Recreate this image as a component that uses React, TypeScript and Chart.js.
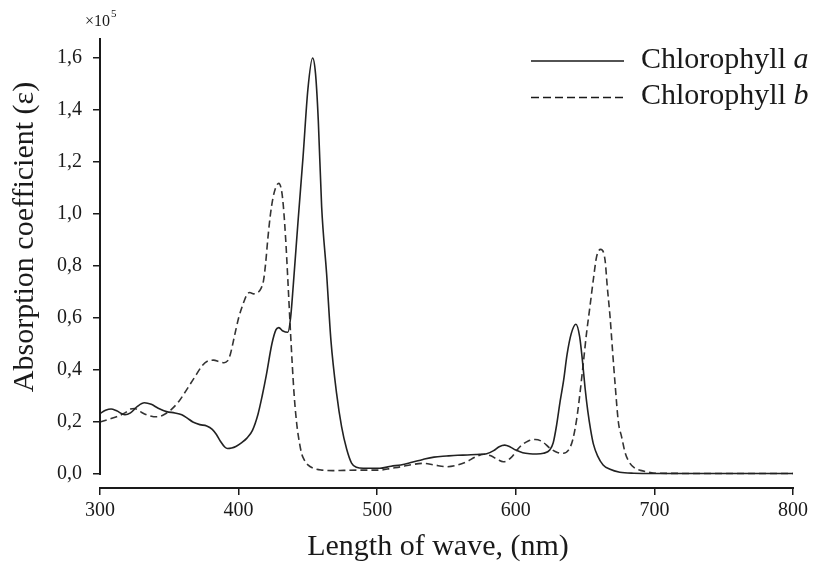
import React, { useEffect, useRef } from "react";
import { Chart, registerables } from "chart.js";

Chart.register(...registerables);

// Chlorophyll a (solid)
const wavelengthsA = [
  300, 304, 308, 312, 318, 322, 327, 332, 337, 342, 348, 354, 359, 363, 367, 372, 377, 381, 384, 387,
  390, 392, 395, 398, 402, 406, 410, 414, 417, 420, 424, 427, 429, 432, 435.5, 437.5, 439.5, 443, 446.5,
  450, 453.4, 455.5, 457.5, 459.9, 463.5, 466.6, 470.7, 474.3, 478, 481.5, 485, 490, 495, 502, 510,
  517, 525, 533, 541, 550, 558, 565, 572, 579, 584, 588, 592, 596, 600, 605, 610, 615, 620, 624.5,
  627, 629.5, 632, 634.5, 637, 640, 643.4, 646, 648, 650, 652, 654, 656, 659, 663, 668, 675, 685, 700,
  750, 800,
];
const absorbA = [
  0.233, 0.245, 0.25, 0.243, 0.228, 0.235, 0.26, 0.274, 0.268, 0.253, 0.24, 0.235, 0.228, 0.215, 0.2,
  0.19, 0.185, 0.172, 0.152, 0.125, 0.104, 0.098, 0.1, 0.106, 0.12, 0.138, 0.168, 0.23, 0.3, 0.38,
  0.5, 0.555, 0.563, 0.55, 0.545, 0.6, 0.73, 0.98, 1.22, 1.48, 1.6, 1.54, 1.36, 1.03, 0.77, 0.515,
  0.31, 0.182, 0.095, 0.042, 0.026, 0.022, 0.022, 0.022, 0.03, 0.035, 0.045, 0.056, 0.065, 0.069,
  0.072, 0.073, 0.075, 0.078, 0.09, 0.105, 0.111, 0.104, 0.092, 0.082, 0.078, 0.077, 0.08, 0.092,
  0.12, 0.19, 0.28, 0.36, 0.46, 0.54, 0.576, 0.53, 0.44, 0.33, 0.24, 0.17, 0.115, 0.07, 0.035, 0.018,
  0.007, 0.003, 0.002, 0.002, 0.002,
];

// Chlorophyll b (dashed)
const wavelengthsB = [
  300, 306, 312, 318, 322, 325, 329, 334, 341, 346, 351, 357, 362, 368, 374, 378, 382, 386, 389.5,
  392, 394, 397, 400, 403.4, 406, 408, 411, 413, 416, 418, 419.5, 421, 423, 425, 427, 429, 431, 432.3,
  434, 435.5, 437.5, 440, 441.8, 443, 445.4, 447, 450, 454, 460, 468, 476, 485, 495, 502, 510, 517,
  525, 533, 541, 550, 557, 564.5, 571, 577, 582, 587, 591, 596, 603, 609, 614, 619, 624.7, 630,
  634.3, 638, 641, 643.9, 646.5, 648.7, 651, 653.5, 656, 658.3, 661.2, 664.4, 666, 668, 670, 671.6,
  674, 676.3, 679, 682.4, 686, 690, 695, 702, 750, 800,
];
const absorbB = [
  0.2, 0.21, 0.22, 0.235, 0.25, 0.252, 0.24, 0.227, 0.22, 0.228, 0.246, 0.28, 0.32, 0.37, 0.418,
  0.435, 0.438, 0.432, 0.428, 0.435, 0.46, 0.53, 0.6, 0.656, 0.69, 0.698, 0.693, 0.695, 0.712, 0.745,
  0.81, 0.9, 1.0, 1.067, 1.105, 1.118, 1.09, 1.03, 0.9, 0.75, 0.54, 0.31, 0.2, 0.15, 0.08, 0.058,
  0.035, 0.022, 0.015, 0.013, 0.014, 0.015, 0.015, 0.015, 0.022, 0.028, 0.036, 0.041, 0.035, 0.028,
  0.033, 0.047, 0.066, 0.076, 0.07, 0.055, 0.047, 0.06, 0.105, 0.127, 0.133, 0.125, 0.099, 0.083,
  0.08, 0.092, 0.13, 0.21, 0.32, 0.426, 0.54, 0.644, 0.75, 0.836, 0.864, 0.823, 0.72, 0.605, 0.46,
  0.349, 0.2, 0.144, 0.08, 0.041, 0.022, 0.014, 0.008, 0.003, 0.002, 0.002,
];

const yTickValues = [0, 0.2, 0.4, 0.6, 0.8, 1.0, 1.2, 1.4, 1.6];
const seriesLabels = ["Chlorophyll a", "Chlorophyll b"];

const SERIF = "'Liberation Serif', 'Times New Roman', serif";
const INK = "#1a1a1a";

const decorPlugin = {
  id: "decor",
  afterDraw(chart: any) {
    const { ctx, chartArea, scales } = chart;
    const y0 = scales.y.getPixelForValue(0);
    ctx.save();
    // axis lines
    ctx.strokeStyle = INK;
    ctx.lineWidth = 2;
    ctx.setLineDash([]);
    ctx.beginPath();
    ctx.moveTo(chartArea.left, y0 + 1);
    ctx.lineTo(chartArea.left, chartArea.top);
    ctx.stroke();
    ctx.beginPath();
    ctx.moveTo(chartArea.left - 1, chartArea.bottom);
    ctx.lineTo(chartArea.right + 1, chartArea.bottom);
    ctx.stroke();

    ctx.fillStyle = INK;
    // exponent
    ctx.textAlign = "left";
    ctx.textBaseline = "alphabetic";
    ctx.font = `16px ${SERIF}`;
    ctx.fillText("\u00d710", 85, 26);
    const w10 = ctx.measureText("\u00d710").width;
    ctx.font = `11px ${SERIF}`;
    ctx.fillText("5", 85 + w10 + 1, 17);

    // y title
    ctx.save();
    ctx.translate(33, 237);
    ctx.rotate(-Math.PI / 2);
    ctx.textAlign = "center";
    ctx.textBaseline = "alphabetic";
    ctx.font = `30px ${SERIF}`;
    ctx.fillText("Absorption coefficient (\u03b5)", 0, 0);
    ctx.restore();

    // x title
    ctx.textAlign = "center";
    ctx.font = `30px ${SERIF}`;
    ctx.fillText("Length of wave, (nm)", 438, 555);

    // legend
    const rows = [
      { y: 61, base: 68, dash: [] as number[] },
      { y: 97.5, base: 104, dash: [8, 4] },
    ];
    rows.forEach((r, i) => {
      ctx.strokeStyle = INK;
      ctx.lineWidth = 1.6;
      ctx.setLineDash(r.dash);
      ctx.beginPath();
      ctx.moveTo(531, r.y);
      ctx.lineTo(624, r.y);
      ctx.stroke();
      ctx.setLineDash([]);
      ctx.textAlign = "left";
      ctx.font = `30px ${SERIF}`;
      const label = seriesLabels[i];
      const mainText = label.slice(0, label.length - 1);
      const itText = label.slice(label.length - 1);
      ctx.fillText(mainText, 641, r.base);
      const mw = ctx.measureText(mainText).width;
      ctx.font = `italic 30px ${SERIF}`;
      ctx.fillText(itText, 641 + mw, r.base);
    });
    ctx.restore();
  },
};

export default function App() {
  const canvasRef = useRef<HTMLCanvasElement | null>(null);

  useEffect(() => {
    if (!canvasRef.current) return;
    const chart = new Chart(canvasRef.current, {
      type: "line",
      data: {
        datasets: [
          {
            label: seriesLabels[0],
            data: wavelengthsA.map((x, i) => ({ x, y: absorbA[i] })),
            borderColor: "#222",
            borderWidth: 1.6,
            pointRadius: 0,
            fill: false,
            cubicInterpolationMode: "monotone",
          },
          {
            label: seriesLabels[1],
            data: wavelengthsB.map((x, i) => ({ x, y: absorbB[i] })),
            borderColor: "#333",
            borderWidth: 1.6,
            borderDash: [7, 4],
            pointRadius: 0,
            fill: false,
            cubicInterpolationMode: "monotone",
          },
        ],
      },
      options: {
        responsive: false,
        animation: false,
        layout: { padding: { left: 0, right: 31, top: 38, bottom: 0 } },
        plugins: { legend: { display: false }, tooltip: { enabled: false } },
        scales: {
          x: {
            type: "linear",
            min: 300,
            max: 800,
            ticks: {
              stepSize: 100,
              color: INK,
              padding: 4,
              font: { family: SERIF, size: 20 },
            },
            grid: {
              drawOnChartArea: false,
              drawTicks: true,
              tickLength: 7,
              color: INK,
              lineWidth: 1.5,
            },
            border: { display: false },
            afterFit: (s: any) => {
              s.height = 76;
            },
          },
          y: {
            type: "linear",
            min: -0.0538,
            max: 1.677,
            afterBuildTicks: (s: any) => {
              s.ticks = yTickValues.map((v) => ({ value: v }));
            },
            ticks: {
              color: INK,
              padding: 11,
              font: { family: SERIF, size: 20 },
              callback: (v: any) => Number(v).toFixed(1).replace(".", ","),
            },
            grid: {
              drawOnChartArea: false,
              drawTicks: true,
              tickLength: 7,
              color: INK,
              lineWidth: 1.5,
            },
            border: { display: false },
            afterFit: (s: any) => {
              s.width = 100;
            },
          },
        },
      },
      plugins: [decorPlugin],
    });
    return () => chart.destroy();
  }, []);

  return (
    <div style={{ position: "absolute", left: 0, top: 0, width: 824, height: 564, background: "#fff" }}>
      <canvas ref={canvasRef} width={824} height={564} />
    </div>
  );
}
